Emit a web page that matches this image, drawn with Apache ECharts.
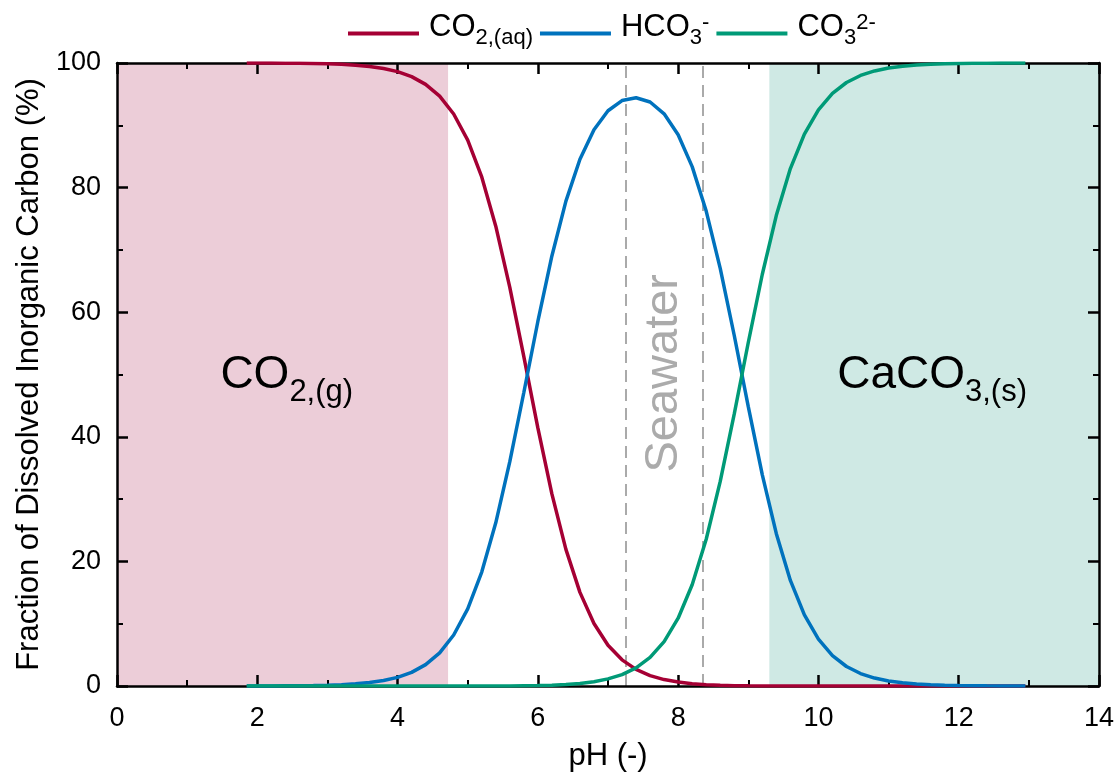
<!DOCTYPE html>
<html>
<head>
<meta charset="utf-8">
<script src="https://cdn.jsdelivr.net/npm/echarts@6/dist/echarts.min.js"></script>
<style>
html,body{margin:0;padding:0;background:#ffffff;}
#chart{width:1117px;height:783px;}
</style>
</head>
<body>
<div id="chart"></div>
<script>
// ---- data ----
const pH = [1.85,2.0,2.2,2.4,2.6,2.8,3.0,3.2,3.4,3.6,3.8,4.0,4.2,4.4,4.6,4.8,5.0,5.2,5.4,5.6,5.8,6.0,6.2,6.4,6.6,6.8,7.0,7.2,7.4,7.6,7.8,8.0,8.2,8.4,8.6,8.8,9.0,9.2,9.4,9.6,9.8,10.0,10.2,10.4,10.6,10.8,11.0,11.2,11.4,11.6,11.8,12.0,12.2,12.4,12.6,12.8,12.95];
const co2Aq = [99.99,99.99,99.98,99.96,99.94,99.91,99.86,99.78,99.65,99.44,99.12,98.61,97.81,96.57,94.68,91.82,87.62,81.71,73.80,63.99,52.86,41.42,30.83,21.93,15.03,10.02,6.54,4.20,2.66,1.67,1.03,0.63,0.37,0.21,0.12,0.06,0.03,0.02,0.01,0,0,0,0,0,0,0,0,0,0,0,0,0,0,0,0,0,0];
const hco3 = [0.01,0.01,0.02,0.04,0.06,0.09,0.14,0.22,0.35,0.56,0.88,1.39,2.19,3.43,5.32,8.18,12.38,18.29,26.19,36.00,47.11,58.51,69.03,77.83,84.55,89.29,92.33,93.97,94.42,93.74,91.84,88.49,83.37,76.23,67.04,56.26,44.83,33.89,24.45,16.95,11.41,7.52,4.88,3.13,2.00,1.27,0.81,0.51,0.32,0.20,0.13,0.08,0.05,0.03,0.02,0.01,0.01];
const co3 = [0,0,0,0,0,0,0,0,0,0,0,0,0,0,0,0,0,0,0,0,0.04,0.07,0.13,0.24,0.41,0.69,1.14,1.83,2.92,4.59,7.13,10.88,16.26,23.56,32.84,43.67,55.14,66.09,75.55,83.05,88.59,92.48,95.12,96.87,98.00,98.73,99.19,99.49,99.68,99.80,99.87,99.92,99.95,99.97,99.98,99.99,99.99];

const seriesNames = ['CO2,(aq)', 'HCO3-', 'CO3 2-'];
const legendLabels = ['{m|CO}{s|2,(aq)}', '{m|HCO}{s|3}{p|-}', '{m|CO}{s|3}{p|2-}'];
const seriesColors = ['#A50034', '#0072BD', '#009A77'];

const gasRegion = [0, 4.72];
const solidRegion = [9.3, 14];
const seawaterBounds = [7.25, 8.35];

const annotationText = ['{A|CO}{B|2,(g)}', '{A|CaCO}{B|3,(s)}', 'Seawater'];
const annotationPH = [2.42, 11.62, 7.8];
const annotationFrac = [48.4, 48.4, 50.2];

const xMin = 0, xMax = 14, xStep = 2;
const yMin = 0, yMax = 100, yStep = 20;

// ---- chart ----
const FONT = "'Liberation Sans', Arial, sans-serif";
const chart = echarts.init(document.getElementById('chart'), null, {renderer: 'canvas'});

function axisCommon(showLabels, margin) {
  return {
    z: 1.5,
    axisLine: {show: true, onZero: false, lineStyle: {color: '#000', width: 2.5}},
    axisTick: {show: true, inside: true, length: 11, lineStyle: {color: '#000', width: 2.5}},
    minorTick: {show: true, splitNumber: 2, length: 6, lineStyle: {color: '#000', width: 2}},
    splitLine: {show: false},
    axisLabel: {show: showLabels, color: '#000', fontSize: 27, fontFamily: FONT, margin: margin}
  };
}

const legendMap = {};
seriesNames.forEach((n, i) => legendMap[n] = legendLabels[i]);

const dataSeries = seriesNames.map((name, i) => ({
  name: name,
  type: 'line',
  xAxisIndex: 0,
  yAxisIndex: 0,
  symbol: 'none',
  smooth: false,
  z: 2,
  color: seriesColors[i],
  lineStyle: {color: seriesColors[i], width: 3.5},
  data: pH.map((x, k) => [x, [co2Aq, hco3, co3][i][k]])
}));

const decorSeries = {
  name: 'decor',
  type: 'line',
  xAxisIndex: 0,
  yAxisIndex: 0,
  data: [],
  symbol: 'none',
  silent: true,
  markArea: {
    z: 1,
    silent: true,
    data: [
      [{xAxis: gasRegion[0], itemStyle: {color: '#ECCDD8'}}, {xAxis: gasRegion[1]}],
      [{xAxis: solidRegion[0], itemStyle: {color: '#CFE9E4'}}, {xAxis: solidRegion[1]}]
    ]
  },
  markLine: {
    z: 1.2,
    silent: true,
    symbol: ['none', 'none'],
    label: {show: false},
    lineStyle: {color: '#AAAAAA', width: 2, type: [12, 7]},
    data: seawaterBounds.map(v => ({xAxis: v}))
  },
  markPoint: {
    z: 3,
    silent: true,
    symbol: 'circle',
    symbolSize: 1,
    itemStyle: {color: 'rgba(0,0,0,0)'},
    data: annotationText.map((t, i) => ({
      coord: [annotationPH[i], annotationFrac[i]],
      label: {
        show: true,
        position: 'inside',
        formatter: t,
        rotate: i === 2 ? 90 : 0,
        color: i === 2 ? '#ABABAB' : '#000',
        fontSize: i === 2 ? 47 : 46,
        fontFamily: FONT,
        rich: {
          A: {fontSize: 46, lineHeight: 46, padding: [0, 0, 9, 0], verticalAlign: 'bottom', color: '#000', fontFamily: FONT},
          B: {fontSize: 31, lineHeight: 31, verticalAlign: 'bottom', color: '#000', fontFamily: FONT}
        }
      }
    }))
  }
};

const option = {
  animation: false,
  backgroundColor: '#ffffff',
  grid: {left: 117, right: 18, top: 63, bottom: 97, containLabel: false, outerBoundsMode: 'none'},
  legend: {
    data: seriesNames,
    top: 7,
    left: 343,
    itemWidth: 71,
    itemHeight: 14,
    itemGap: 7,
    icon: 'path://M0,6 L70,6 L70,10 L0,10 Z',
    formatter: name => legendMap[name],
    textStyle: {
      color: '#000',
      fontFamily: FONT,
      fontSize: 31,
      rich: {
        m: {fontSize: 31, lineHeight: 31, padding: [0, 0, 6, 5], verticalAlign: 'bottom', color: '#000', fontFamily: FONT},
        s: {fontSize: 22, lineHeight: 22, verticalAlign: 'bottom', color: '#000', fontFamily: FONT},
        p: {fontSize: 22, lineHeight: 22, padding: [0, 0, 15, 0], verticalAlign: 'bottom', color: '#000', fontFamily: FONT}
      }
    }
  },
  xAxis: [
    Object.assign(axisCommon(true, 19), {
      type: 'value', position: 'bottom', min: xMin, max: xMax, interval: xStep,
      name: 'pH (-)', nameLocation: 'middle', nameGap: 55,
      nameTextStyle: {fontSize: 31, color: '#000', fontFamily: FONT}
    }),
    Object.assign(axisCommon(false, 15), {
      type: 'value', position: 'top', min: xMin, max: xMax, interval: xStep
    })
  ],
  yAxis: [
    Object.assign(axisCommon(true, 16), {
      type: 'value', position: 'left', min: yMin, max: yMax, interval: yStep,
      name: 'Fraction of Dissolved Inorganic Carbon (%)', nameLocation: 'middle', nameGap: 71,
      nameTextStyle: {fontSize: 31, color: '#000', fontFamily: FONT}
    }),
    Object.assign(axisCommon(false, 15), {
      type: 'value', position: 'right', min: yMin, max: yMax, interval: yStep
    })
  ],
  series: [decorSeries].concat(dataSeries)
};

chart.setOption(option);
</script>
</body>
</html>
